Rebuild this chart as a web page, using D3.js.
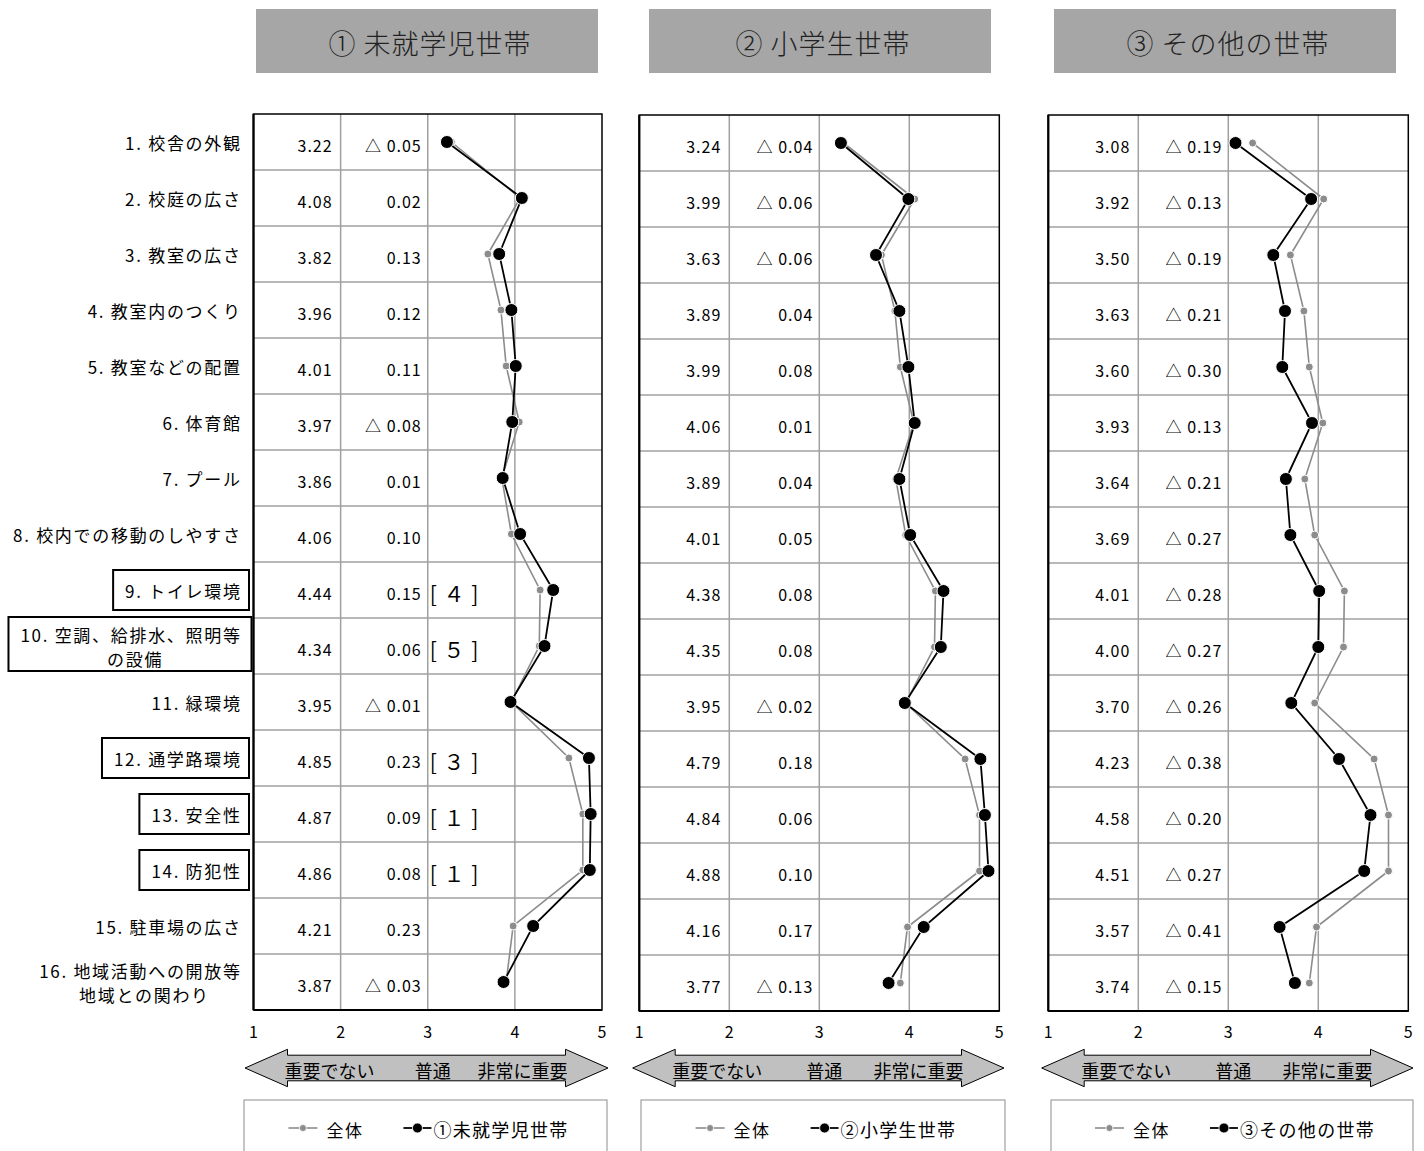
<!DOCTYPE html>
<html><head><meta charset="utf-8">
<script src="https://cdn.jsdelivr.net/npm/d3@7"></script>
<style>
body{margin:0;background:#fff;}
svg{display:block;}
text{font-family:'Noto Sans CJK JP','Noto Sans',sans-serif;fill:#000;}
</style></head>
<body>
<svg id="chart" width="1424" height="1151"></svg>
<script>
// ---------- data ----------
const categories = ["1. 校舎の外観","2. 校庭の広さ","3. 教室の広さ","4. 教室内のつくり","5. 教室などの配置","6. 体育館","7. プール","8. 校内での移動のしやすさ","9. トイレ環境","10. 空調、給排水、照明等|の設備","11. 緑環境","12. 通学路環境","13. 安全性","14. 防犯性","15. 駐車場の広さ","16. 地域活動への開放等|地域との関わり"];
const boxedCategories = [9,10,12,13,14];
const panelTitles = ["① 未就学児世帯","② 小学生世帯","③ その他の世帯"];
const legendNames = ["①未就学児世帯","②小学生世帯","③その他の世帯"];
const overallName = "全体";
const overall = [3.27,4.06,3.69,3.84,3.90,4.05,3.85,3.96,4.29,4.28,3.96,4.62,4.78,4.78,3.98,3.90];
const values1 = [3.22,4.08,3.82,3.96,4.01,3.97,3.86,4.06,4.44,4.34,3.95,4.85,4.87,4.86,4.21,3.87];
const diff1   = [-0.05,0.02,0.13,0.12,0.11,-0.08,0.01,0.10,0.15,0.06,-0.01,0.23,0.09,0.08,0.23,-0.03];
const rank1   = [null,null,null,null,null,null,null,null,"４","５",null,"３","１","１",null,null];
const values2 = [3.24,3.99,3.63,3.89,3.99,4.06,3.89,4.01,4.38,4.35,3.95,4.79,4.84,4.88,4.16,3.77];
const diff2   = [-0.04,-0.06,-0.06,0.04,0.08,0.01,0.04,0.05,0.08,0.08,-0.02,0.18,0.06,0.10,0.17,-0.13];
const values3 = [3.08,3.92,3.50,3.63,3.60,3.93,3.64,3.69,4.01,4.00,3.70,4.23,4.58,4.51,3.57,3.74];
const diff3   = [-0.19,-0.13,-0.19,-0.21,-0.30,-0.13,-0.21,-0.27,-0.28,-0.27,-0.26,-0.38,-0.20,-0.27,-0.41,-0.15];
const xTicks = [1,2,3,4,5];
const arrowLabels = ["重要でない","普通","非常に重要"];

// ---------- layout ----------
const panels = [
  {values:values1, diffs:diff1, ranks:rank1, left:253.5, right:602, top:114, bottom:1010, title:[256,598], arrow:[245,608], legend:[244,607]},
  {values:values2, diffs:diff2, ranks:null, left:639.3, right:999.3, top:115, bottom:1011, title:[649,991], arrow:[632.7,1004], legend:[641,1005]},
  {values:values3, diffs:diff3, ranks:null, left:1048.3, right:1408.3, top:115, bottom:1011, title:[1054,1396], arrow:[1041.7,1413], legend:[1051,1413]}
];

const svg = d3.select("#chart");
const fmtDiff = d => (d < 0 ? "△ " : "") + Math.abs(d).toFixed(2);

panels.forEach((p, pi) => {
  const g = svg.append("g");
  const x = d3.scaleLinear().domain([1,5]).range([p.left, p.right]);
  const y = d3.scaleBand().domain(categories).range([p.top, p.bottom]).padding(0);
  const cy = i => y(categories[i]) + y.bandwidth()/2;

  // title
  g.append("rect").attr("x",p.title[0]).attr("y",9).attr("width",p.title[1]-p.title[0]).attr("height",64).attr("fill","#a6a6a6");
  g.append("text").attr("x",(p.title[0]+p.title[1])/2+3).attr("y",42).attr("text-anchor","middle")
    .attr("dominant-baseline","central").style("font-size","27px").style("font-weight","300").style("letter-spacing","1px").style("fill","#222").text(panelTitles[pi]);

  // grid
  g.append("g").selectAll("line.v").data([2,3,4]).join("line")
    .attr("x1",d=>x(d)).attr("x2",d=>x(d)).attr("y1",p.top).attr("y2",p.bottom)
    .attr("stroke","#a0a0a0").attr("stroke-width",1.5);
  g.append("g").selectAll("line.h").data(categories.slice(1)).join("line")
    .attr("x1",p.left).attr("x2",p.right).attr("y1",d=>y(d)).attr("y2",d=>y(d))
    .attr("stroke","#a0a0a0").attr("stroke-width",1.5);
  g.append("rect").attr("x",p.left).attr("y",p.top).attr("width",p.right-p.left).attr("height",p.bottom-p.top)
    .attr("fill","none").attr("stroke","#000").attr("stroke-width",1.5);
  g.append("line").attr("x1",p.left).attr("x2",p.left).attr("y1",p.top).attr("y2",p.bottom).attr("stroke","#000").attr("stroke-width",2.2);
  g.append("line").attr("x1",p.left).attr("x2",p.right).attr("y1",p.bottom).attr("y2",p.bottom).attr("stroke","#000").attr("stroke-width",2.2);

  // x axis tick labels
  g.append("g").selectAll("text").data(xTicks).join("text")
    .attr("x",d=>x(d)).attr("y",1031).attr("text-anchor","middle").attr("dominant-baseline","central")
    .style("font-size","16px").text(d=>d);

  // value columns
  g.append("g").selectAll("text").data(p.values).join("text")
    .attr("x",x(2)-8).attr("y",(d,i)=>cy(i)+3).attr("text-anchor","end").attr("dominant-baseline","central")
    .style("font-size","16px").style("letter-spacing","1px").text(d=>d.toFixed(2));
  g.append("g").selectAll("text").data(p.diffs).join("text")
    .attr("x",x(3)-6).attr("y",(d,i)=>cy(i)+3).attr("text-anchor","end").attr("dominant-baseline","central")
    .style("font-size","16px").style("letter-spacing","1px").text(d=>fmtDiff(d));
  if (p.ranks) {
    g.append("g").selectAll("text").data(p.ranks.map((r,i)=>({r,i})).filter(d=>d.r)).join("text")
      .attr("x",x(3)+2).attr("y",d=>cy(d.i)+3).attr("text-anchor","start").attr("dominant-baseline","central")
      .style("font-size","21px").style("letter-spacing","1px").text(d=>"[ "+d.r+" ]");
  }

  // overall series (gray)
  const line = d3.line().x(d=>x(d.v)).y(d=>cy(d.i));
  const ov = overall.map((v,i)=>({v,i}));
  const gv = p.values.map((v,i)=>({v,i}));
  g.append("path").datum(ov).attr("d",line).attr("fill","none").attr("stroke","#8c8c8c").attr("stroke-width",1.6);
  g.append("g").selectAll("circle").data(ov).join("circle")
    .attr("cx",d=>x(d.v)).attr("cy",d=>cy(d.i)).attr("r",4).attr("fill","#8c8c8c").attr("stroke","#fff").attr("stroke-width",1);
  g.append("path").datum(gv).attr("d",line).attr("fill","none").attr("stroke","#000").attr("stroke-width",1.8);
  g.append("g").selectAll("circle").data(gv).join("circle")
    .attr("cx",d=>x(d.v)).attr("cy",d=>cy(d.i)).attr("r",6.5).attr("fill","#000").attr("stroke","#fff").attr("stroke-width",1);

  // double arrow
  const a0 = p.arrow[0], a1 = p.arrow[1], hl = 42.5, ym = 1068, sh = 12.8, hh = 18.7;
  const pts = [[a0,ym],[a0+hl,ym-hh],[a0+hl,ym-sh],[a1-hl,ym-sh],[a1-hl,ym-hh],[a1,ym],[a1-hl,ym+hh],[a1-hl,ym+sh],[a0+hl,ym+sh],[a0+hl,ym+hh]];
  g.append("path").attr("d","M"+pts.map(q=>q.join(",")).join("L")+"Z").attr("fill","#c0c0c0").attr("stroke","#000").attr("stroke-width",1);
  g.append("text").attr("x",a0+hl-3).attr("y",ym+2).attr("text-anchor","start").attr("dominant-baseline","central").style("font-size","18px").text(arrowLabels[0]);
  g.append("text").attr("x",(p.left+p.right)/2+5).attr("y",ym+2).attr("text-anchor","middle").attr("dominant-baseline","central").style("font-size","18px").text(arrowLabels[1]);
  g.append("text").attr("x",a1-hl+2).attr("y",ym+2).attr("text-anchor","end").attr("dominant-baseline","central").style("font-size","18px").text(arrowLabels[2]);

  // legend
  g.append("rect").attr("x",p.legend[0]).attr("y",1100).attr("width",p.legend[1]-p.legend[0]).attr("height",80)
    .attr("fill","#fff").attr("stroke","#a0a0a0").attr("stroke-width",1.2);
  const lg = g.append("g");
  const ly = 1128;
  lg.append("line").attr("x1",0).attr("x2",29).attr("y1",ly).attr("y2",ly).attr("stroke","#8c8c8c").attr("stroke-width",1.6);
  lg.append("circle").attr("cx",14.5).attr("cy",ly).attr("r",3.5).attr("fill","#8c8c8c").attr("stroke","#fff").attr("stroke-width",0.8);
  const t1 = lg.append("text").attr("x",38).attr("y",ly+1).attr("dominant-baseline","central").style("font-size","17px").style("letter-spacing","1.5px").text(overallName);
  const w1 = t1.node().getComputedTextLength();
  const bx = 38 + w1 + 40;
  lg.append("line").attr("x1",bx).attr("x2",bx+28).attr("y1",ly).attr("y2",ly).attr("stroke","#000").attr("stroke-width",1.8);
  lg.append("circle").attr("cx",bx+14).attr("cy",ly).attr("r",5).attr("fill","#000").attr("stroke","#fff").attr("stroke-width",0.8);
  const t2 = lg.append("text").attr("x",bx+30).attr("y",ly+1).attr("dominant-baseline","central").style("font-size","18px").style("letter-spacing","1.3px").text(legendNames[pi]);
  const total = bx + 30 + t2.node().getComputedTextLength();
  const cx = (p.legend[0]+p.legend[1])/2 + 3;
  lg.attr("transform",`translate(${cx - total/2},0)`);

  // category labels (left of first panel)
  if (pi === 0) {
    const lab = svg.append("g");
    const ls = 1.7;
    categories.forEach((c, i) => {
      const lines = c.split("|");
      const cg = lab.append("g");
      const yc = cy(i);
      if (lines.length === 1) {
        cg.append("text").attr("x",240+ls).attr("y",yc).attr("text-anchor","end").attr("dominant-baseline","central")
          .style("font-size","17px").style("letter-spacing",ls+"px").text(lines[0]);
      } else {
        const tA = cg.append("text").attr("x",240+ls).attr("y",yc-12).attr("text-anchor","end").attr("dominant-baseline","central")
          .style("font-size","17px").style("letter-spacing",ls+"px").text(lines[0]);
        const bb = tA.node().getBBox();
        cg.append("text").attr("x",bb.x+bb.width/2+4).attr("y",yc+12).attr("text-anchor","middle").attr("dominant-baseline","central")
          .style("font-size","17px").style("letter-spacing",ls+"px").text(lines[1]);
      }
      const num = parseInt(c, 10);
      if (boxedCategories.includes(num)) {
        const bb = cg.node().getBBox();
        const h = lines.length === 1 ? 40 : 54;
        const x0 = bb.x - 12;
        cg.insert("rect","text").attr("x",x0).attr("y",yc-h/2 - (lines.length>1?2:0)).attr("width",(lines.length>1?251.5:249)-x0).attr("height",h)
          .attr("fill","#fff").attr("stroke","#000").attr("stroke-width",2);
      }
    });
  }
});
</script>
</body></html>
